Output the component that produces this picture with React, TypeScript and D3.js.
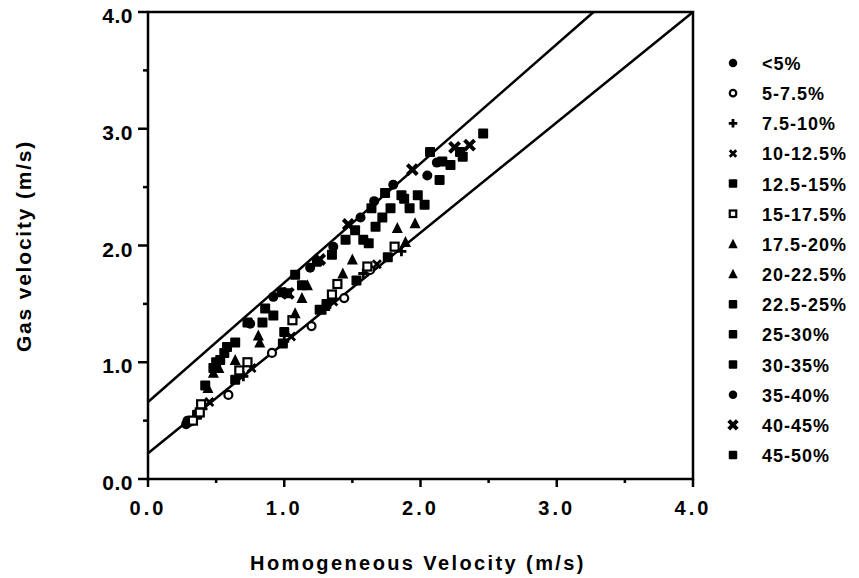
import React from 'react';
import * as d3 from 'd3';

// x = homogeneous velocity (m/s), y = gas velocity (m/s)
const groups = ['<5%', '5-7.5%', '7.5-10%', '10-12.5%', '12.5-15%', '15-17.5%', '17.5-20%',
  '20-22.5%', '22.5-25%', '25-30%', '30-35%', '35-40%', '40-45%', '45-50%'];

const lt5 = [[0.28, 0.47], [0.31, 0.49], [0.29, 0.5]];
const g5 = [[0.59, 0.72], [0.91, 1.08], [1.2, 1.31], [1.44, 1.55], [1.63, 1.79]];
const g7 = [[0.4, 0.6], [0.7, 0.88], [1.0, 1.18], [1.3, 1.45], [1.58, 1.76], [1.86, 1.95]];
const g10 = [[0.45, 0.66], [0.76, 0.95], [1.05, 1.22], [1.36, 1.52], [1.68, 1.84]];
const g12 = [[0.36, 0.55], [0.64, 0.85], [0.99, 1.16], [1.0, 1.26], [1.26, 1.45], [1.31, 1.5],
  [1.53, 1.7], [1.76, 1.9]];
const g15 = [[0.33, 0.5], [0.38, 0.57], [0.39, 0.64], [0.67, 0.93], [0.73, 1.0], [1.06, 1.36],
  [1.35, 1.58], [1.39, 1.67], [1.61, 1.82], [1.81, 1.99]];
const g17 = [[0.44, 0.78], [0.48, 0.91], [0.64, 1.02], [0.82, 1.17], [1.08, 1.42], [1.17, 1.66],
  [1.43, 1.76], [1.83, 2.15]];
const g20 = [[0.52, 0.95], [0.81, 1.23], [1.13, 1.55], [1.5, 1.88], [1.96, 2.19], [1.89, 2.03]];
const g22 = [[0.53, 1.02], [0.84, 1.34], [1.02, 1.59], [1.58, 2.05], [1.72, 2.24], [1.92, 2.32]];
const g25 = [[0.48, 0.95], [0.64, 1.17], [0.86, 1.46], [1.08, 1.75], [1.67, 2.16], [1.98, 2.43],
  [2.14, 2.56], [1.62, 2.02]];
const g30 = [[0.58, 1.13], [0.73, 1.34], [0.92, 1.4], [1.13, 1.66], [1.78, 2.32], [2.03, 2.35],
  [2.16, 2.72], [1.88, 2.4]];
const g35 = [[0.75, 1.33], [0.92, 1.56], [1.19, 1.81], [1.36, 1.99], [1.56, 2.24], [1.8, 2.52],
  [2.05, 2.6], [2.12, 2.71], [1.66, 2.38]];
const g40 = [[1.03, 1.59], [1.26, 1.88], [1.47, 2.18], [1.94, 2.65], [2.25, 2.84], [2.36, 2.86]];
const g45 = [[0.42, 0.8], [0.5, 1.0], [1.35, 1.92], [1.45, 2.05], [1.52, 2.13], [1.64, 2.32],
  [1.86, 2.43], [2.07, 2.8], [2.29, 2.8], [2.31, 2.76], [2.22, 2.69], [2.46, 2.96],
  [0.56, 1.08], [0.98, 1.6], [1.24, 1.86], [1.74, 2.45]];

const seriesData = [lt5, g5, g7, g10, g12, g15, g17, g20, g22, g25, g30, g35, g40, g45];
const shapes = ['dot', 'ring', 'plus', 'cross', 'square', 'box', 'tri', 'tri', 'square', 'square',
  'square', 'dot', 'bowtie', 'square'];

// two bounding lines
const boundLines = [
  { x0: 0, y0: 0.66, x1: 3.27, y1: 4 },
  { x0: 0, y0: 0.22, x1: 4, y1: 4 },
];

const majorTicks = [0, 1, 2, 3, 4];
const minorTicks = [0.5, 1.5, 2.5, 3.5];

const FONT = '"Liberation Sans", Arial, Helvetica, sans-serif';

const Marker = ({ shape, x, y, s = 1 }) => {
  const k = 5 * s;
  switch (shape) {
    case 'dot':
      return <circle cx={x} cy={y} r={k} fill="#000" />;
    case 'ring':
      return <circle cx={x} cy={y} r={k - 1} fill="#fff" stroke="#000" strokeWidth={2.2} />;
    case 'plus':
      return <path d={`M${x - k},${y}H${x + k}M${x},${y - k}V${y + k}`} stroke="#000" strokeWidth={2.8} />;
    case 'cross':
      return <path d={`M${x - k + 1},${y - k + 1}L${x + k - 1},${y + k - 1}M${x - k + 1},${y + k - 1}L${x + k - 1},${y - k + 1}`} stroke="#000" strokeWidth={2.8} />;
    case 'bowtie':
      return <path d={`M${x - k},${y - k}L${x + k},${y + k}M${x - k},${y + k}L${x + k},${y - k}`} stroke="#000" strokeWidth={4} />;
    case 'square':
      return <rect x={x - k} y={y - k} width={2 * k} height={2 * k} rx={1} fill="#000" />;
    case 'box':
      return <rect x={x - k + 1} y={y - k + 1} width={2 * k - 2} height={2 * k - 2} fill="#fff" stroke="#000" strokeWidth={2.2} />;
    case 'tri':
      return <path d={`M${x},${y - k - 1}L${x + k + 0.5},${y + k}L${x - k - 0.5},${y + k}Z`} fill="#000" />;
    default:
      return null;
  }
};

const App = () => {
  const width = 859;
  const height = 578;
  const x = d3.scaleLinear().domain([0, 4]).range([148, 693]);
  const y = d3.scaleLinear().domain([0, 4]).range([479, 12]);
  const fmt = d3.format('.1f');

  return (
    <svg width={width} height={height} style={{ position: 'absolute', left: 0, top: 0, background: '#fff' }}
      fontFamily={FONT} fontWeight="bold">
      {/* bounding lines */}
      {boundLines.map((l, i) => (
        <line key={i} x1={x(l.x0)} y1={y(l.y0)} x2={x(l.x1)} y2={y(l.y1)} stroke="#000" strokeWidth={2.5} />
      ))}

      {/* points */}
      {seriesData.map((pts, si) => (
        <g key={si}>
          {pts.map((p, j) => <Marker key={j} shape={shapes[si]} x={x(p[0])} y={y(p[1])} />)}
        </g>
      ))}

      {/* frame */}
      <rect x={x(0)} y={y(4)} width={x(4) - x(0)} height={y(0) - y(4)} fill="none" stroke="#000" strokeWidth={2.5} />

      {/* x axis */}
      <g fontSize="20" textAnchor="middle">
        {majorTicks.map(t => (
          <g key={t} transform={`translate(${x(t)},${y(0)})`}>
            <line y2={8} stroke="#000" strokeWidth={2.5} />
            <text y={36} letterSpacing="3">{fmt(t)}</text>
          </g>
        ))}
        {minorTicks.map(t => (
          <line key={t} x1={x(t)} x2={x(t)} y1={y(0)} y2={y(0) + 4} stroke="#000" strokeWidth={2.5} />
        ))}
      </g>

      {/* y axis */}
      <g fontSize="21" textAnchor="end">
        {majorTicks.map(t => (
          <g key={t} transform={`translate(${x(0)},${y(t)})`}>
            <line x2={-10} stroke="#000" strokeWidth={2.5} />
            <text x={-15} y={11} letterSpacing="0.5">{fmt(t)}</text>
          </g>
        ))}
        {minorTicks.map(t => (
          <line key={t} x1={x(0)} x2={x(0) - 5} y1={y(t)} y2={y(t)} stroke="#000" strokeWidth={2.5} />
        ))}
      </g>

      {/* axis titles */}
      <text x={418} y={570} fontSize="20" textAnchor="middle" letterSpacing="2.4">Homogeneous Velocity  (m/s)</text>
      <text transform="translate(31,246) rotate(-90)" fontSize="21" textAnchor="middle" letterSpacing="1.8">Gas velocity (m/s)</text>

      {/* legend */}
      {groups.map((g, i) => {
        const ly = 63 + i * 30.15;
        return (
          <g key={g}>
            <Marker shape={shapes[i]} x={733} y={ly} s={0.85} />
            <text x={762} y={ly + 7} fontSize="18" letterSpacing="1">{g}</text>
          </g>
        );
      })}
    </svg>
  );
};

export default App;
